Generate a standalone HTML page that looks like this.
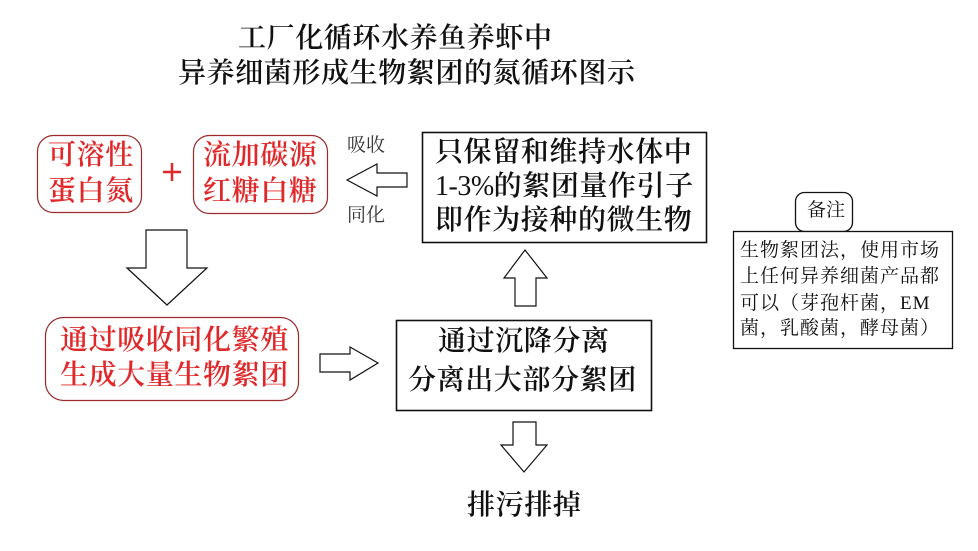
<!DOCTYPE html>
<html><head><meta charset="utf-8">
<style>
html,body{margin:0;padding:0;background:#fff;}
#c{position:relative;width:978px;height:551px;overflow:hidden;background:#fff;}
svg{position:absolute;left:0;top:0;}
.t{position:absolute;white-space:nowrap;font-family:"Liberation Serif","Noto Serif CJK SC",serif;}
.b28{font-size:28px;line-height:28px;letter-spacing:0.6px;color:#111;font-weight:600;}
.r28{font-size:28px;line-height:28px;letter-spacing:0.6px;color:#e0282a;font-weight:600;}
.s19{font-size:19px;line-height:19px;color:#333;}
.n20{font-size:19px;line-height:20px;letter-spacing:1px;color:#111;}
.lat{font-weight:normal;letter-spacing:-0.5px;}
</style></head><body>
<div id="c">
<svg width="978" height="551" viewBox="0 0 978 551">
  <rect x="37.5" y="135.5" width="104" height="77" rx="16" fill="none" stroke="#9b2b2b" stroke-width="1.2"/>
  <rect x="193.5" y="135.5" width="134" height="78" rx="16" fill="none" stroke="#9b2b2b" stroke-width="1.2"/>
  <rect x="45.5" y="317.5" width="253" height="83" rx="18" fill="none" stroke="#9b2b2b" stroke-width="1.2"/>
  <line x1="163" y1="172" x2="181" y2="172" stroke="#e0282a" stroke-width="2.5"/>
  <line x1="172" y1="163" x2="172" y2="181" stroke="#e0282a" stroke-width="2.5"/>
  <rect x="422.5" y="132.5" width="284" height="110" fill="none" stroke="#111" stroke-width="1.6"/>
  <rect x="396.5" y="320.5" width="255" height="90" fill="none" stroke="#111" stroke-width="1.6"/>
  <rect x="795.5" y="192.5" width="57" height="39" rx="9" fill="#fff" stroke="#111" stroke-width="1.3"/>
  <rect x="733.5" y="231.5" width="219" height="117" fill="#fff" stroke="#111" stroke-width="1.3"/>
  <polygon points="347,180 377,164 377,173 407,173 407,187 377,187 377,196" fill="#fff" stroke="#111" stroke-width="1.2"/>
  <polygon points="146,230 187,230 187,268 207,268 167,305 127,268 146,268" fill="#fff" stroke="#111" stroke-width="1.2"/>
  <polygon points="320,354 350,354 350,347 378,363 350,380 350,372 320,372" fill="#fff" stroke="#111" stroke-width="1.2"/>
  <polygon points="525,250 547,278 536,278 536,306 515,306 515,278 504,278" fill="#fff" stroke="#111" stroke-width="1.2"/>
  <polygon points="513,422 536,422 536,445 547,445 524,472 501,445 513,445" fill="#fff" stroke="#111" stroke-width="1.2"/>
</svg>

<div class="t b28" style="left:238px;top:24.5px;">工厂化循环水养鱼养虾中</div>
<div class="t b28" style="left:178px;top:59.5px;">异养细菌形成生物絮团的氮循环图示</div>

<div class="t r28" style="left:48px;top:141.5px;">可溶性</div>
<div class="t r28" style="left:48px;top:177.5px;">蛋白氮</div>
<div class="t r28" style="left:203px;top:141.5px;">流加碳源</div>
<div class="t r28" style="left:203px;top:177.5px;">红糖白糖</div>

<div class="t s19" style="left:347px;top:136px;">吸收</div>
<div class="t s19" style="left:347px;top:206px;">同化</div>

<div class="t r28" style="left:60px;top:326.5px;">通过吸收同化繁殖</div>
<div class="t r28" style="left:60px;top:361.5px;">生成大量生物絮团</div>

<div class="t b28" style="left:435px;top:138.5px;">只保留和维持水体中</div>
<div class="t b28" style="left:435px;top:172.5px;"><span class="lat">1-3%</span>的絮团量作引子</div>
<div class="t b28" style="left:435px;top:206.5px;">即作为接种的微生物</div>

<div class="t b28" style="left:438px;top:327.5px;">通过沉降分离</div>
<div class="t b28" style="left:408px;top:366.5px;">分离出大部分絮团</div>

<div class="t b28" style="left:467px;top:491.5px;">排污排掉</div>

<div class="t s19" style="left:807px;top:201px;color:#111;">备注</div>
<div class="t n20" style="left:740px;top:241px;">生物絮团法，使用市场</div>
<div class="t n20" style="left:740px;top:267px;">上任何异养细菌产品都</div>
<div class="t n20" style="left:740px;top:294px;">可以（芽孢杆菌，EM</div>
<div class="t n20" style="left:740px;top:319px;">菌，乳酸菌，酵母菌）</div>
</div>
</body></html>
